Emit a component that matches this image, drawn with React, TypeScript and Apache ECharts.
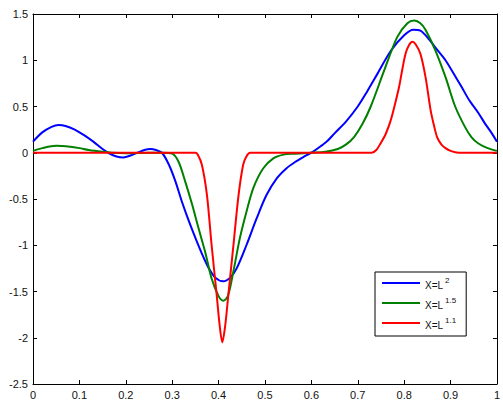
import React, { useEffect, useRef } from "react";
import * as echarts from "echarts";

const xTicks = [0, 0.1, 0.2, 0.3, 0.4, 0.5, 0.6, 0.7, 0.8, 0.9, 1];
const yTicks = [-2.5, -2, -1.5, -1, -0.5, 0, 0.5, 1, 1.5];

const seriesNames = ["X=L^2", "X=L^1.5", "X=L^1.1"];

const blueCurve: number[][] = [
  [0, 0.12], [0.02, 0.22], [0.04, 0.28], [0.055, 0.3], [0.07, 0.29], [0.09, 0.25],
  [0.11, 0.19], [0.13, 0.12], [0.15, 0.04], [0.165, -0.01], [0.18, -0.04], [0.195, -0.05],
  [0.21, -0.03], [0.225, 0.0], [0.24, 0.03], [0.253, 0.04], [0.265, 0.03], [0.278, 0.0],
  [0.293, -0.13], [0.307, -0.31], [0.321, -0.53], [0.336, -0.74], [0.35, -0.92],
  [0.364, -1.09], [0.378, -1.24], [0.393, -1.35], [0.41, -1.39], [0.425, -1.35],
  [0.439, -1.25], [0.46, -1.0], [0.482, -0.71], [0.503, -0.46], [0.525, -0.28],
  [0.546, -0.17], [0.565, -0.1], [0.585, -0.04], [0.603, 0.01], [0.62, 0.07],
  [0.635, 0.13], [0.65, 0.21], [0.675, 0.34], [0.7, 0.5], [0.72, 0.66], [0.742, 0.85],
  [0.771, 1.1], [0.8, 1.27], [0.82, 1.33], [0.835, 1.32], [0.853, 1.23], [0.87, 1.12],
  [0.889, 1.0], [0.905, 0.87], [0.924, 0.71], [0.94, 0.57], [0.96, 0.43], [0.975, 0.31],
  [0.989, 0.21], [1.0, 0.12],
];

const greenCurve: number[][] = [
  [0, 0.02], [0.02, 0.05], [0.05, 0.075], [0.08, 0.065], [0.1, 0.05], [0.12, 0.03],
  [0.15, 0.01], [0.17, 0.0], [0.2, -0.005], [0.25, 0.0], [0.28, 0.0], [0.3, -0.01],
  [0.314, -0.1], [0.328, -0.31], [0.343, -0.56], [0.357, -0.82], [0.371, -1.07],
  [0.385, -1.36], [0.4, -1.55], [0.41, -1.6], [0.42, -1.55], [0.432, -1.28],
  [0.446, -0.92], [0.46, -0.64], [0.475, -0.38], [0.496, -0.17], [0.518, -0.06],
  [0.54, -0.02], [0.56, -0.01], [0.6, 0.0], [0.63, 0.01], [0.657, 0.04], [0.675, 0.09],
  [0.692, 0.17], [0.71, 0.31], [0.728, 0.5], [0.757, 0.89], [0.785, 1.25], [0.807, 1.4],
  [0.822, 1.43], [0.835, 1.4], [0.846, 1.33], [0.867, 1.11], [0.889, 0.82], [0.91, 0.5],
  [0.931, 0.28], [0.945, 0.17], [0.96, 0.1], [0.98, 0.05], [1.0, 0.02],
];

const redCurve: number[][] = [
  [0, 0], [0.35, 0], [0.355, -0.02], [0.364, -0.13], [0.375, -0.46], [0.385, -1.0],
  [0.396, -1.54], [0.402, -1.85], [0.408, -2.05], [0.414, -1.88], [0.421, -1.54],
  [0.432, -1.0], [0.443, -0.46], [0.453, -0.13], [0.46, -0.04], [0.468, 0], [0.73, 0],
  [0.74, 0.03], [0.749, 0.1], [0.76, 0.2], [0.771, 0.35], [0.78, 0.52], [0.789, 0.71],
  [0.796, 0.9], [0.803, 1.07], [0.81, 1.16], [0.818, 1.2], [0.825, 1.17], [0.835, 1.07],
  [0.846, 0.82], [0.857, 0.46], [0.864, 0.3], [0.871, 0.17], [0.88, 0.09], [0.889, 0.05],
  [0.9, 0.02], [0.917, 0], [1, 0],
];

const curves = [blueCurve, greenCurve, redCurve];
const colors = ["#0000ff", "#008000", "#ff0000"];

const FONT = "Liberation Sans, Arial, sans-serif";

export default function App() {
  const ref = useRef<HTMLDivElement>(null);
  useEffect(() => {
    if (!ref.current) return;
    const chart = echarts.init(ref.current, undefined, { renderer: "svg" });
    const tickCommon = { show: true, inside: true, length: 4, lineStyle: { color: "#000" } };
    const lineCommon = { show: true, onZero: false, lineStyle: { color: "#000", width: 1 } };
    chart.setOption({
      animation: false,
      backgroundColor: "#fff",
      grid: { left: 33, right: 3, top: 14, bottom: 16, containLabel: false },
      legend: {
        orient: "vertical",
        left: 375,
        top: 272,
        width: 88,
        padding: [4, 10, 6, 7],
        itemGap: 6,
        itemWidth: 38,
        itemHeight: 2,
        icon: "rect",
        borderColor: "#000",
        borderWidth: 1,
        borderRadius: 0,
        backgroundColor: "#fff",
        data: seriesNames,
        formatter: (name: string) => {
          const [base, exp] = name.split("^");
          return `{a|${base}}{b|${exp}}`;
        },
        textStyle: {
          rich: {
            a: { fontSize: 10, fontFamily: FONT, color: "#111", lineHeight: 14, verticalAlign: "bottom" },
            b: { fontSize: 8, fontFamily: FONT, color: "#111", padding: [0, 0, 6, 2], verticalAlign: "bottom" },
          },
        },
      },
      xAxis: [
        {
          type: "value",
          min: 0,
          max: 1,
          interval: 0.1,
          position: "bottom",
          axisLine: lineCommon,
          axisTick: tickCommon,
          splitLine: { show: false },
          axisLabel: {
            formatter: (v: number) => {
              const r = Math.round(v * 10) / 10;
              return xTicks.includes(r) ? String(r) : "";
            },
            color: "#111",
            fontSize: 11,
            fontFamily: FONT,
            margin: 5,
            showMaxLabel: true,
            showMinLabel: true,
          },
        },
        {
          type: "value",
          min: 0,
          max: 1,
          interval: 0.1,
          position: "top",
          axisLine: lineCommon,
          axisTick: tickCommon,
          axisLabel: { show: false },
          splitLine: { show: false },
        },
      ],
      yAxis: [
        {
          type: "value",
          min: -2.5,
          max: 1.5,
          interval: 0.5,
          position: "left",
          axisLine: lineCommon,
          axisTick: tickCommon,
          splitLine: { show: false },
          axisLabel: {
            formatter: (v: number) => (yTicks.includes(v) ? String(v) : ""),
            color: "#111",
            fontSize: 11,
            fontFamily: FONT,
            margin: 5,
          },
        },
        {
          type: "value",
          min: -2.5,
          max: 1.5,
          interval: 0.5,
          position: "right",
          axisLine: lineCommon,
          axisTick: tickCommon,
          axisLabel: { show: false },
          splitLine: { show: false },
        },
      ],
      series: curves.map((data, i) => ({
        name: seriesNames[i],
        type: "line",
        data,
        xAxisIndex: 0,
        yAxisIndex: 0,
        symbol: "none",
        smooth: 0.3,
        lineStyle: { color: colors[i], width: 2 },
        itemStyle: { color: colors[i] },
        z: 3 + i,
      })),
    });
    return () => chart.dispose();
  }, []);
  return <div ref={ref} style={{ width: 503, height: 400, position: "absolute", left: 0, top: 0 }} />;
}
